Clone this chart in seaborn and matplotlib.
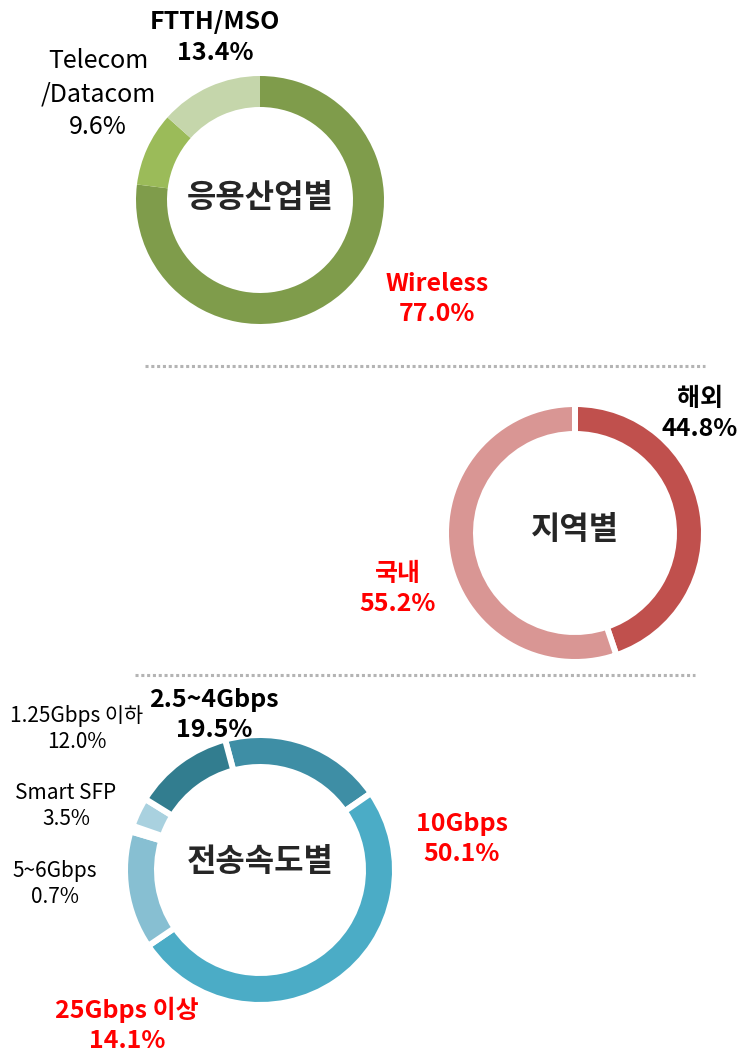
import matplotlib
matplotlib.use("Agg")
import matplotlib.pyplot as plt
import seaborn as sns

# ---------------- data ----------------
industry_labels = ["Wireless", "Telecom\n/Datacom", "FTTH/MSO"]
industry_values = [77.0, 9.6, 13.4]
industry_colors = ["#7f9c4b", "#9bbb59", "#c5d6ab"]

region_labels = ["해외", "국내"]
region_values = [44.8, 55.2]
region_colors = ["#c0504d", "#d99694"]

speed_labels = ["2.5~4Gbps", "10Gbps", "25Gbps 이상", "5~6Gbps", "Smart SFP", "1.25Gbps 이하"]
speed_values = [19.5, 50.1, 14.1, 0.7, 3.5, 12.0]
speed_colors = ["#3e8ea5", "#4bacc6", "#87bfd2", "#93cddd", "#a9d1df", "#327d8f"]

center_titles = ["응용산업별", "지역별", "전송속도별"]

# ---------------- style ----------------
sns.set_theme(style="white")
plt.rcParams['font.family'] = ['Noto Sans CJK KR', 'DejaVu Sans']

W, H = 741, 1054
fig = plt.figure(figsize=(W / 100, H / 100), dpi=100)
ax = fig.add_axes([0, 0, 1, 1])


def Y(y):
    return H - y


def donut(values, colors, cx, cy, r_out, r_in, start, gap_px=0.0):
    half = gap_px / 2.0
    R = r_out + half
    w = (r_out - r_in) + gap_px
    wp = dict(width=w, edgecolor="white" if gap_px else None,
              linewidth=gap_px * 0.72 if gap_px else 0, antialiased=True)
    ax.pie(values, colors=colors, radius=R, center=(cx, Y(cy)),
           startangle=90 + start, counterclock=False, wedgeprops=wp)


def label(text, x, y, size=18, bold=True, color="black", ls=1.32):
    ax.text(x, Y(y), text, ha="center", va="center", fontsize=size,
            fontweight="bold" if bold else "normal", color=color,
            linespacing=ls)


# donut 1: industry
donut(industry_values, industry_colors, 260, 200, 124, 93, 0)
# donut 2: region
donut(region_values, region_colors, 575, 533, 126, 102, 0, gap_px=6)
# donut 3: speed
donut(speed_values, speed_colors, 260, 870, 132, 106, 15, gap_px=6)

ax.set_xlim(0, W)
ax.set_ylim(0, H)
ax.set_aspect("auto")
ax.axis("off")

# centre titles
for t, (x, y) in zip(center_titles, [(260, 198), (575, 530), (260, 862)]):
    ax.text(x, Y(y), t, ha="center", va="center", fontsize=23, fontweight="bold")

# labels donut 1
label(f"{industry_labels[2]}\n{industry_values[2]:.1f}%", 215, 37.5)
label(f"{industry_labels[1]}\n{industry_values[1]:.1f}%", 98, 94, bold=False, ls=1.34)
label(f"{industry_labels[0]}\n{industry_values[0]:.1f}%", 437, 299, color="#ff0000")

# labels donut 2
label(f"{region_labels[0]}\n{region_values[0]:.1f}%", 700, 414)
label(f"{region_labels[1]}\n{region_values[1]:.1f}%", 398, 589, color="#ff0000")

# labels donut 3
label(f"{speed_labels[0]}\n{speed_values[0]:.1f}%", 214, 715)
label(f"{speed_labels[1]}\n{speed_values[1]:.1f}%", 462, 839, color="#ff0000")
label(f"{speed_labels[2]}\n{speed_values[2]:.1f}%", 127, 1025, color="#ff0000")
label(f"{speed_labels[3]}\n{speed_values[3]:.1f}%", 55, 884, size=15, bold=False, ls=1.23)
label(f"{speed_labels[4]}\n{speed_values[4]:.1f}%", 66, 806, size=15, bold=False, ls=1.23)
label(f"{speed_labels[5]}\n{speed_values[5]:.1f}%", 77, 729, size=15, bold=False, ls=1.23)

# dotted separators
ax.plot([145, 705], [Y(366), Y(366)], color="#b4b4b4", lw=2.2, linestyle=(0, (1, 0.9)),
        solid_capstyle="butt", dash_capstyle="butt")
ax.plot([135, 695], [Y(675), Y(675)], color="#b4b4b4", lw=2.2, linestyle=(0, (1, 0.9)),
        solid_capstyle="butt", dash_capstyle="butt")

fig.savefig("out.png", dpi=100, facecolor="white")
